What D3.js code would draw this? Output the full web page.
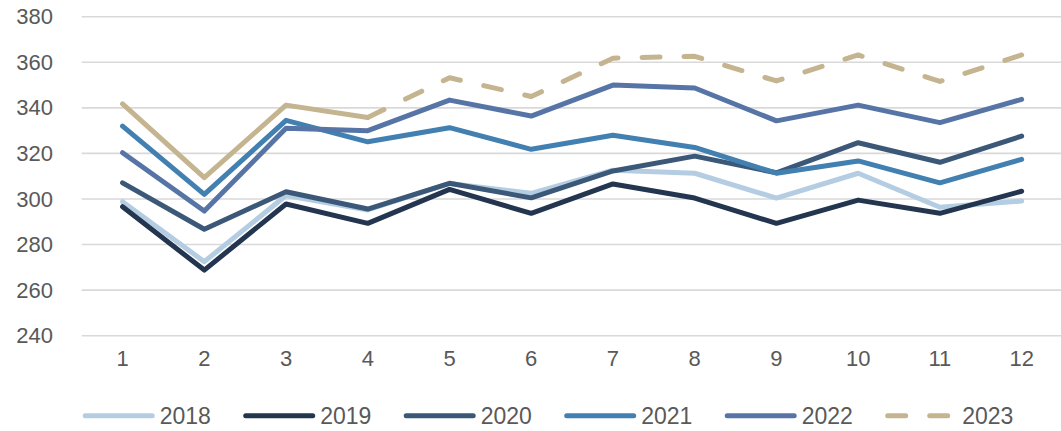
<!DOCTYPE html>
<html>
<head>
<meta charset="utf-8">
<script src="https://cdn.jsdelivr.net/npm/d3@7"></script>
<style>
  html, body { margin: 0; padding: 0; background: #ffffff; }
  svg { display: block; font-family: "Liberation Sans", Arial, sans-serif; }
</style>
</head>
<body>
<svg id="chart" width="1061" height="431"></svg>
<script>
const months = [1, 2, 3, 4, 5, 6, 7, 8, 9, 10, 11, 12];
const yTicks = [240, 260, 280, 300, 320, 340, 360, 380];
const seriesNames = ["2018", "2019", "2020", "2021", "2022", "2023"];
const v2018 = [298.8, 272.5, 301.5, 295.2, 306.8, 302.5, 312.6, 311.3, 300.4, 311.3, 296.4, 299.1];
const v2019 = [296.6, 268.8, 297.8, 289.3, 304.2, 293.7, 306.6, 300.4, 289.3, 299.5, 293.7, 303.4];
const v2020 = [307.1, 286.7, 303.2, 295.6, 306.9, 300.5, 312.3, 318.8, 311.5, 324.7, 316.1, 327.6];
const v2021 = [332.0, 302.0, 334.5, 325.1, 331.3, 321.8, 328.0, 322.6, 311.3, 316.7, 307.1, 317.4];
const v2022 = [320.3, 294.7, 331.0, 330.0, 343.4, 336.4, 350.0, 348.7, 334.3, 341.2, 333.5, 343.7];
const v2023 = [341.7, 309.4, 341.2, 335.8, 353.2, 345.0, 361.8, 362.6, 351.8, 363.2, 351.6, 363.2];
const seriesValues = [v2018, v2019, v2020, v2021, v2022, v2023];
const seriesColors = ["#b4cde2", "#243550", "#3b5878", "#4180b0", "#5675a6", "#c5b490"];
const seriesDashed = [false, false, false, false, false, true];
// 2023: solid for the first months, dashed afterwards (index where dashing starts)
const dashFrom2023 = 3;

const svg = d3.select("#chart");
const textColor = "#595959";
const tickFont = 22;
const legendFont = 23;

const x = d3.scaleBand().domain(months).range([81.7, 1062.5]).padding(0);
const xc = d => x(d) + x.bandwidth() / 2;
const y = d3.scaleLinear().domain([240, 380]).range([335.7, 16.7]);

// gridlines
svg.append("g").selectAll("line").data(yTicks).join("line")
  .attr("x1", 81.7).attr("x2", 1062.5)
  .attr("y1", d => y(d)).attr("y2", d => y(d))
  .attr("stroke", "#d9d9d9").attr("stroke-width", 1.6);

// y axis labels
const yAxis = d3.axisLeft(y).tickValues(yTicks).tickSize(0).tickPadding(0);
const gy = svg.append("g").attr("transform", "translate(53,0)").call(yAxis);
gy.select(".domain").remove();
gy.selectAll("text").attr("fill", textColor).style("font-size", tickFont + "px")
  .style("font-family", "'Liberation Sans', Arial, sans-serif");

// x axis labels
const xAxis = d3.axisBottom(x).tickSize(0).tickPadding(0);
const gx = svg.append("g").attr("transform", "translate(0,350.5)").call(xAxis);
gx.select(".domain").remove();
gx.selectAll("text").attr("fill", textColor).style("font-size", tickFont + "px")
  .style("font-family", "'Liberation Sans', Arial, sans-serif");

// lines
const pts = vals => vals.map((v, i) => [xc(months[i]), y(v)]);
const line = d3.line();
seriesValues.forEach((vals, k) => {
  const p = pts(vals);
  const style = (sel, dashed) => sel
    .attr("fill", "none")
    .attr("stroke", seriesColors[k])
    .attr("stroke-width", 5)
    .attr("stroke-linejoin", "round")
    .attr("stroke-linecap", "round")
    .attr("stroke-dasharray", dashed ? "18,24" : null);
  if (seriesDashed[k]) {
    svg.append("path").attr("d", line(p.slice(0, dashFrom2023 + 1))).call(style, false);
    svg.append("path").attr("d", line(p.slice(dashFrom2023))).call(style, true);
  } else {
    svg.append("path").attr("d", line(p)).call(style, false);
  }
});

// legend
const legend = svg.append("g");
seriesNames.forEach((name, k) => {
  const x0 = 82.7 + k * 160.5;
  const ly = 415.7;
  legend.append("line")
    .attr("x1", x0 + 2.5).attr("x2", x0 + 69.5)
    .attr("y1", ly).attr("y2", ly)
    .attr("stroke", seriesColors[k])
    .attr("stroke-width", 5)
    .attr("stroke-linecap", "round")
    .attr("stroke-dasharray", seriesDashed[k] ? "18,24" : null);
  legend.append("text")
    .attr("x", x0 + 77).attr("y", ly)
    .attr("dy", "0.35em")
    .attr("fill", textColor)
    .style("font-size", legendFont + "px")
    .text(name);
});
</script>
</body>
</html>
